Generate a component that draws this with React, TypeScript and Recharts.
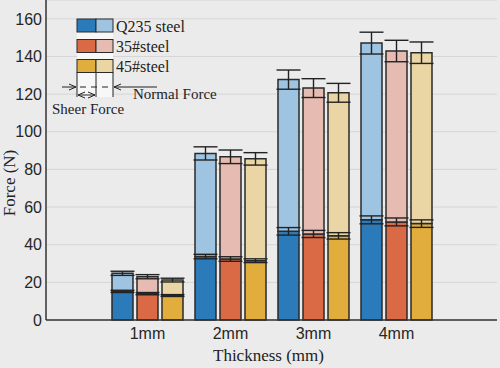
import { BarChart, Bar, XAxis, YAxis, CartesianGrid, ErrorBar, Label } from "recharts"

const categories = ["1mm", "2mm", "3mm", "4mm"]

const q235Sheer = [15.2, 33.7, 47.1, 53.2]
const q235Total = [24.8, 88.5, 127.7, 147.1]
const q235SheerErr = [0.6, 1.2, 2.0, 2.1]
const q235TotalErr = [1.1, 3.5, 5.1, 5.8]

const s35Sheer = [14.0, 32.4, 45.7, 52.1]
const s35Total = [23.0, 86.7, 123.2, 142.9]
const s35SheerErr = [0.6, 1.2, 1.9, 2.1]
const s35TotalErr = [1.1, 3.6, 5.0, 5.7]

const s45Sheer = [13.0, 31.5, 44.7, 51.2]
const s45Total = [21.2, 85.6, 120.7, 142.0]
const s45SheerErr = [0.5, 1.0, 1.7, 2.0]
const s45TotalErr = [1.0, 3.3, 5.0, 5.7]

const yTicks = [0, 20, 40, 60, 80, 100, 120, 140, 160]

const data = categories.map((c, i) => ({
  name: c,
  qS: q235Sheer[i],
  qN: q235Total[i] - q235Sheer[i],
  qSe: q235SheerErr[i],
  qNe: q235TotalErr[i],
  aS: s35Sheer[i],
  aN: s35Total[i] - s35Sheer[i],
  aSe: s35SheerErr[i],
  aNe: s35TotalErr[i],
  bS: s45Sheer[i],
  bN: s45Total[i] - s45Sheer[i],
  bSe: s45SheerErr[i],
  bNe: s45TotalErr[i],
}))

const colors = {
  qDark: "#2b7bbb",
  qLight: "#9fc4e2",
  aDark: "#da6a45",
  aLight: "#e6bcb2",
  bDark: "#e1ad3c",
  bLight: "#ead6a4",
}

const edge = "#2a2a2a"
const serif = "'Liberation Serif', 'Times New Roman', serif"
const sans = "'Liberation Sans', Arial, sans-serif"

// legend with the sheer / normal force arrows, drawn over the chart
function LegendOverlay() {
  const rows = [
    { y: 19, dark: colors.qDark, light: colors.qLight, label: "Q235 steel" },
    { y: 39.5, dark: colors.aDark, light: colors.aLight, label: "35#steel" },
    { y: 59.5, dark: colors.bDark, light: colors.bLight, label: "45#steel" },
  ]
  return (
    <svg width={500} height={368} style={{ position: "absolute", left: 0, top: 0, pointerEvents: "none" }}>
      <defs>
        <marker id="ah" markerWidth="8" markerHeight="8" refX="7" refY="4" orient="auto" markerUnits="userSpaceOnUse">
          <path d="M0,1 L7,4 L0,7" fill="none" stroke="#222" strokeWidth={1} />
        </marker>
      </defs>
      <text
        x={15}
        y={183}
        transform="rotate(-90, 15, 183)"
        textAnchor="middle"
        fontFamily={serif}
        fontSize={17}
        fill="#222"
      >
        Force (N)
      </text>
      <rect x={77} y={19} width={36} height={78} fill="#f7f7f7" />
      {rows.map((r) => (
        <g key={r.label}>
          <rect x={77} y={r.y} width={19} height={13} fill={r.dark} stroke={edge} strokeWidth={1} />
          <rect x={96} y={r.y} width={17} height={13} fill={r.light} stroke={edge} strokeWidth={1} />
          <text x={116} y={r.y + 12.5} fontFamily={serif} fontSize={16} fill="#222">
            {r.label}
          </text>
        </g>
      ))}
      <line x1={77} y1={72.5} x2={77} y2={97} stroke="#222" strokeWidth={1} />
      <line x1={96} y1={72.5} x2={96} y2={97} stroke="#222" strokeWidth={1} />
      <line x1={113} y1={72.5} x2={113} y2={97} stroke="#222" strokeWidth={1} />
      <line x1={62} y1={87} x2={76} y2={87} stroke="#222" strokeWidth={1} markerEnd="url(#ah)" />
      <line x1={80} y1={87} x2={110} y2={87} stroke="#222" strokeWidth={1} strokeDasharray="6 5" />
      <line x1={157} y1={87} x2={114} y2={87} stroke="#222" strokeWidth={1} markerEnd="url(#ah)" />
      <line x1={86} y1={95} x2={78} y2={95} stroke="#222" strokeWidth={1} markerEnd="url(#ah)" />
      <line x1={86} y1={95} x2={95} y2={95} stroke="#222" strokeWidth={1} markerEnd="url(#ah)" />
      <text x={133} y={99} fontFamily={serif} fontSize={15} fill="#222">
        Normal Force
      </text>
      <text x={52} y={114} fontFamily={serif} fontSize={15} fill="#222">
        Sheer Force
      </text>
    </svg>
  )
}

export default function App() {
  const errProps = { width: 12, stroke: "#222", strokeWidth: 1.4 }
  const barProps = { stroke: edge, strokeWidth: 1.5, isAnimationActive: false }
  return (
    <div style={{ position: "absolute", left: 0, top: 0, width: 500, height: 368, background: "#ebebeb" }}>
      <BarChart
        width={500}
        height={368}
        data={data}
        margin={{ top: 0, right: 3, left: 0, bottom: 0 }}
        barSize={21}
        barGap={4}
      >
        <CartesianGrid vertical={false} stroke="#d5d5d5" strokeWidth={1} />
        <XAxis
          dataKey="name"
          height={48}
          padding={{ left: 60, right: 59 }}
          tickLine={false}
          axisLine={{ stroke: "#333", strokeWidth: 1.5 }}
          tick={{ fill: "#262626", fontSize: 16, fontFamily: sans }}
        >
          <Label
            value="Thickness (mm)"
            position="insideBottom"
            offset={7}
            dx={-3}
            style={{ fontFamily: serif, fontSize: 17, fill: "#222" }}
          />
        </XAxis>
        <YAxis
          width={46}
          domain={[0, 170]}
          ticks={yTicks}
          tickLine={false}
          tickSize={2}
          tickMargin={2}
          axisLine={{ stroke: "#333", strokeWidth: 1.5 }}
          tick={{ fill: "#262626", fontSize: 16, fontFamily: sans }}
        />
        <Bar dataKey="qS" stackId="q" fill={colors.qDark} {...barProps}>
          <ErrorBar dataKey="qSe" {...errProps} />
        </Bar>
        <Bar dataKey="qN" stackId="q" fill={colors.qLight} {...barProps}>
          <ErrorBar dataKey="qNe" {...errProps} />
        </Bar>
        <Bar dataKey="aS" stackId="a" fill={colors.aDark} {...barProps}>
          <ErrorBar dataKey="aSe" {...errProps} />
        </Bar>
        <Bar dataKey="aN" stackId="a" fill={colors.aLight} {...barProps}>
          <ErrorBar dataKey="aNe" {...errProps} />
        </Bar>
        <Bar dataKey="bS" stackId="b" fill={colors.bDark} {...barProps}>
          <ErrorBar dataKey="bSe" {...errProps} />
        </Bar>
        <Bar dataKey="bN" stackId="b" fill={colors.bLight} {...barProps}>
          <ErrorBar dataKey="bNe" {...errProps} />
        </Bar>
      </BarChart>
      <LegendOverlay />
    </div>
  )
}
